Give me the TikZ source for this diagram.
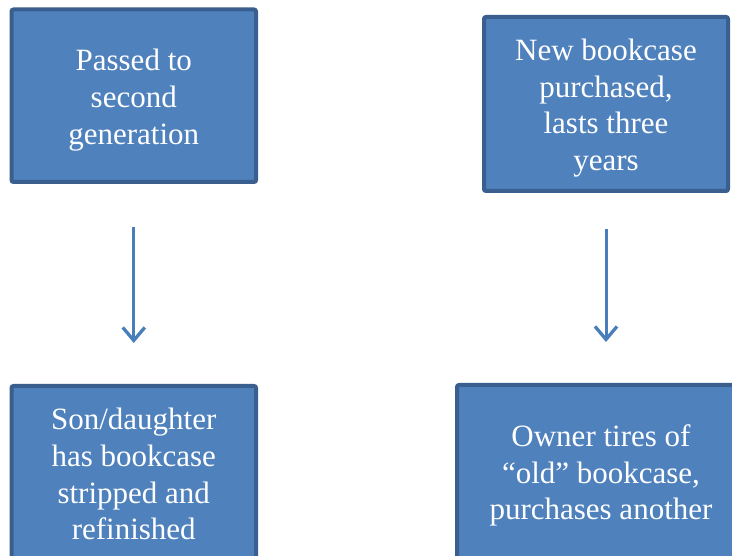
\documentclass[tikz,border=0pt]{standalone}
\usepackage{fontspec}
\setmainfont{Liberation Serif}
\usetikzlibrary{arrows.meta}
\definecolor{boxfill}{HTML}{4F81BD}
\definecolor{boxline}{HTML}{3A5F8E}
\definecolor{arrowc}{HTML}{4A7EBB}
\begin{document}
\begin{tikzpicture}[x=1pt,y=-1pt,
  flowbox/.style={draw=boxline, fill=boxfill, line width=4pt, rounded corners=2pt,
    inner sep=0pt},
  flowtext/.style={text=white, align=center, inner sep=0pt,
    font=\fontsize{31}{36.8}\selectfont},
  flowarrow/.style={draw=arrowc, line width=3pt,
    -{Straight Barb[length=13pt,width=22pt,line width=3.3pt]}}]
\useasboundingbox (0,0) rectangle (732,556);
\begin{scope}
\clip (0,0) rectangle (732,556);
\node[flowbox, minimum width=244.5pt, minimum height=172.5pt] (tl) at (133.75,95.75) {};
\node[flowbox, minimum width=244pt, minimum height=174pt] (tr) at (606,104) {};
\node[flowbox, minimum width=244.5pt, minimum height=173pt] (bl) at (133.75,472.5) {};
\node[flowbox, minimum width=288pt, minimum height=175pt] (br) at (601,472.5) {};
\end{scope}
\node[flowtext, yshift=-4.5pt] (tltext) at (tl.center) {Passed to\\second\\generation};
\node[flowtext, yshift=-4pt] (trtext) at (tr.center) {New bookcase\\purchased,\\lasts three\\years};
\node[flowtext, yshift=-1.5pt] (bltext) at (bl.center) {Son/daughter\\has bookcase\\stripped and\\refinished};
\node[flowtext, yshift=-3pt] (brtext) at (br.center) {Owner tires of\\“old” bookcase,\\purchases another};
\draw[flowarrow, shorten <=43pt, shorten >=41pt] (tl.south) -- (tl.south |- bl.north);
\draw[flowarrow, shorten <=36pt, shorten >=41pt] (tr.south) -- (tr.south |- br.north);
\end{tikzpicture}
\end{document}
